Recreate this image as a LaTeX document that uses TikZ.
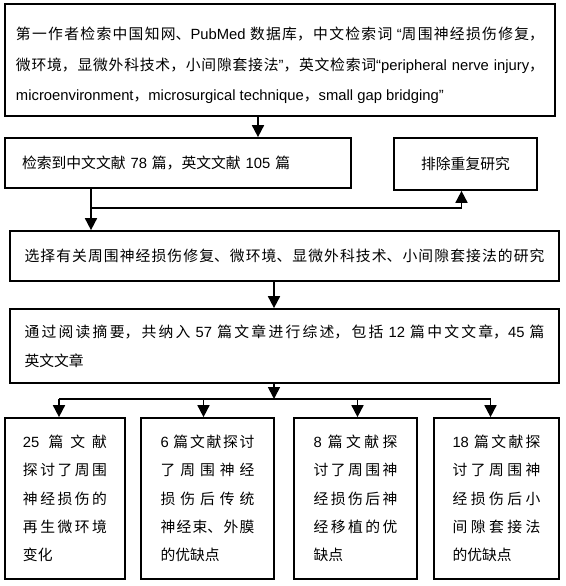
\documentclass[tikz,border=0pt]{standalone}
\usepackage{fontspec}
\setmainfont{Noto Sans CJK SC}
\newfontfamily\enfont{Liberation Sans}
\newcommand{\eng}[1]{{\enfont #1}}
\usetikzlibrary{arrows.meta, positioning}
\XeTeXlinebreaklocale "zh"
\XeTeXlinebreakskip=0pt plus 2pt
\tolerance=10000
\hbadness=10000

\begin{document}
\begin{tikzpicture}[
    x=1pt, y=-1pt,
    box/.style={draw, line width=1.7pt, inner sep=0pt, font=\fontsize{14.8}{29}\selectfont},
    tall/.style={box, minimum height=161pt, align=justify, font=\fontsize{14.8}{28.3}\selectfont},
    arr/.style={-{Triangle[length=12pt, width=12pt]}, line width=1.7pt},
    link/.style={line width=1.7pt},
]
\useasboundingbox (0,0) rectangle (565,586);

% Search
\node[box, minimum width=550pt, minimum height=112pt, text width=528pt, align=justify,
      font=\fontsize{14.8}{30.5}\selectfont] (search) at (280,60)
  {\rule{0pt}{24pt}第一作者检索中国知网、\eng{PubMed} 数据库，中文检索词 \eng{“}周围神经损伤修复，\linebreak
   微环境，显微外科技术，小间隙套接法\eng{”}，英文检索词\eng{“peripheral nerve injury}，\linebreak
   \eng{microenvironment}，\eng{microsurgical technique}，\eng{small gap bridging”}};

% Screening
\node[box, minimum width=346pt, minimum height=50pt, text width=312pt, align=left] (found) at (178,163)
  {检索到中文文献 \eng{78} 篇，英文文献 \eng{105} 篇};
\node[box, minimum width=143pt, minimum height=52pt] (dup) at (465.5,164) {排除重复研究};
\node[box, minimum width=549pt, minimum height=50pt, text width=520pt, align=justify] (select) at (284.5,256)
  {\parfillskip=0pt 选择有关周围神经损伤修复、微环境、显微外科技术、小间隙套接法的研究\par};
\node[box, minimum width=549pt, minimum height=74pt, text width=520pt, align=justify] (incl) at (284.5,346)
  {通过阅读摘要，共纳入 \eng{57} 篇文章进行综述，包括 \eng{12} 篇中文文章，\eng{45} 篇\linebreak
   英文文章};

% Topics
\node[tall, minimum width=120pt, text width=84pt] (r1) at (65,498.5)
  {\eng{25} 篇文献\linebreak 探讨了周围\linebreak 神经损伤的\linebreak 再生微环境\linebreak 变化};
\node[tall, minimum width=133pt, text width=94pt] (r2) at (207.5,498.5)
  {\eng{6} 篇文献探讨\linebreak 了周围神经\linebreak 损伤后传统\linebreak 神经束、外膜\linebreak 的优缺点};
\node[tall, minimum width=123pt, text width=84pt] (r3) at (355.5,498.5)
  {\eng{8} 篇文献探\linebreak 讨了周围神\linebreak 经损伤后神\linebreak 经移植的优\linebreak 缺点};
\node[tall, minimum width=125pt, text width=88pt] (r4) at (496.5,498.5)
  {\eng{18} 篇文献探\linebreak 讨了周围神\linebreak 经损伤后小\linebreak 间隙套接法\linebreak 的优缺点};

% Arrows
\coordinate (a1) at (258,0);
\coordinate (split) at (91,208);
\coordinate (a2) at (274,399);
\coordinate (dupin) at ([xshift=-4pt]dup.south);
\coordinate (r1top) at ([xshift=-6pt]r1.north);
\coordinate (r2top) at ([xshift=-4pt]r2.north);
\coordinate (r3top) at ([xshift=2pt]r3.north);
\coordinate (r4top) at ([xshift=-6pt]r4.north);

\draw[arr] (search.south -| a1) -- (found.north -| a1);
\draw[arr] (found.south -| split) -- (select.north -| split);
\draw[arr] (split) -| (dupin);
\draw[arr] (select.south -| a2) -- (incl.north -| a2);
\draw[arr] (incl.south -| a2) -- (a2);

\draw[link] (r1top |- a2) -- (r4top |- a2);
\foreach \n in {r1top, r2top, r3top, r4top}
  \draw[arr] (\n |- a2) -- (\n);

\end{tikzpicture}
\end{document}
